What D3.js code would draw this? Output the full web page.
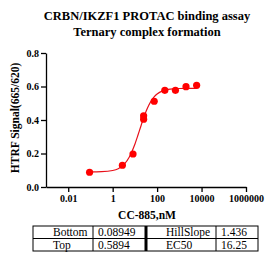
<!DOCTYPE html>
<html>
<head>
<meta charset="utf-8">
<script src="https://cdn.jsdelivr.net/npm/d3@7"></script>
<style>
body { margin: 0; background: #fff; }
svg text { font-family: "Liberation Serif", "Times New Roman", serif; }
</style>
</head>
<body>
<div id="chart"></div>
<script>
// measured points (CC-885 nM, HTRF ratio)
var conc = [0.0914, 2.74, 8.23, 24.7, 24.7, 74.1, 222, 667, 2000, 6000];
var signal = [0.088, 0.13, 0.197, 0.405, 0.425, 0.512, 0.577, 0.577, 0.599, 0.607];

// fitted curve
var curveX = [0.0912, 0.316, 1, 1.778, 3.162, 5.623, 10, 13.34, 17.78, 23.71, 31.62, 42.17, 56.23, 74.99, 100, 177.8, 316.2, 562.3, 1000, 2512, 6026];
var curveY = [0.0898, 0.0912, 0.0984, 0.1095, 0.133, 0.179, 0.2556, 0.3041, 0.3554, 0.4056, 0.4505, 0.488, 0.5174, 0.5393, 0.5551, 0.5738, 0.5825, 0.5863, 0.5881, 0.5891, 0.5894];

var xTicks = [0.01, 1, 100, 10000, 1000000];
var xTickLabels = ["0.01", "1", "100", "10000", "1000000"];
var yTicks = [0, 0.2, 0.4, 0.6, 0.8];

var fitRows = [["Bottom", "0.08949", "HillSlope", "1.436"], ["Top", "0.5894", "EC50", "16.25"]];

var W = 279, H = 263;
var svg = d3.select("#chart").append("svg")
  .attr("width", W).attr("height", H);

var x = d3.scaleLog().domain([0.001, 1000000]).range([46, 246]);
var y = d3.scaleLinear().domain([0, 0.8]).range([187, 53]);

// title
svg.append("text").attr("x", 147).attr("y", 20).attr("text-anchor", "middle")
  .style("font-weight", "bold").style("font-size", "12.5px")
  .text("CRBN/IKZF1 PROTAC binding assay");
svg.append("text").attr("x", 147).attr("y", 36).attr("text-anchor", "middle")
  .style("font-weight", "bold").style("font-size", "12.5px")
  .text("Ternary complex formation");

// axes
var xAxis = svg.append("g")
  .attr("transform", "translate(0,187)")
  .call(d3.axisBottom(x).tickValues(xTicks).tickFormat(function(d, i){ return xTickLabels[i]; }).tickSize(5).tickSizeOuter(0).tickPadding(3));
var yAxis = svg.append("g")
  .attr("transform", "translate(46,0)")
  .call(d3.axisLeft(y).tickValues(yTicks).tickFormat(d3.format(".1f")).tickSize(5).tickSizeOuter(0).tickPadding(2));

[xAxis, yAxis].forEach(function(a){
  a.selectAll("path, line").attr("stroke", "#000").attr("stroke-width", 1.3);
  a.selectAll("text").style("font-family", "'Liberation Serif', serif")
    .style("font-weight", "bold").style("font-size", "10px").attr("fill", "#000");
});

svg.append("text").attr("x", 147).attr("y", 219).attr("text-anchor", "middle")
  .style("font-weight", "bold").style("font-size", "11.5px")
  .text("CC-885,nM");

svg.append("text").attr("transform", "translate(19,118) rotate(-90)")
  .attr("text-anchor", "middle")
  .style("font-weight", "bold").style("font-size", "11.5px")
  .text("HTRF Signal(665/620)");

// fit curve
var curve = curveX.map(function(d, i){ return [d, curveY[i]]; });
svg.append("path")
  .datum(curve)
  .attr("fill", "none").attr("stroke", "#e8101a").attr("stroke-width", 1.2)
  .attr("d", d3.line().x(function(d){ return x(d[0]); }).y(function(d){ return y(d[1]); }).curve(d3.curveMonotoneX));

// points
svg.selectAll("circle.pt")
  .data(conc)
  .enter().append("circle")
  .attr("class", "pt")
  .attr("cx", function(d){ return x(d); })
  .attr("cy", function(d, i){ return y(signal[i]); })
  .attr("r", 3.6)
  .attr("fill", "#ff0000");

// parameter table
var colX = [33, 93, 146, 216, 258];
var rowY = [226, 238.5, 251];
var tbl = svg.append("g");
tbl.append("rect").attr("x", colX[0]).attr("y", rowY[0])
  .attr("width", colX[4] - colX[0]).attr("height", rowY[2] - rowY[0])
  .attr("fill", "none").attr("stroke", "#000").attr("stroke-width", 1);
tbl.append("line").attr("x1", colX[0]).attr("x2", colX[4]).attr("y1", rowY[1]).attr("y2", rowY[1])
  .attr("stroke", "#000");
tbl.append("line").attr("x1", colX[1]).attr("x2", colX[1]).attr("y1", rowY[0]).attr("y2", rowY[2])
  .attr("stroke", "#000");
tbl.append("line").attr("x1", colX[2]).attr("x2", colX[2]).attr("y1", rowY[0]).attr("y2", rowY[2])
  .attr("stroke", "#000").attr("stroke-width", 3);
tbl.append("line").attr("x1", colX[3]).attr("x2", colX[3]).attr("y1", rowY[0]).attr("y2", rowY[2])
  .attr("stroke", "#000");

var textX = [53, 98, 166, 221];
fitRows.forEach(function(row, r){
  row.forEach(function(t, c){
    tbl.append("text").attr("x", textX[c]).attr("y", rowY[r] + 10.2)
      .style("font-size", "11.5px").attr("fill", "#000")
      .text(t);
  });
});
</script>
</body>
</html>
